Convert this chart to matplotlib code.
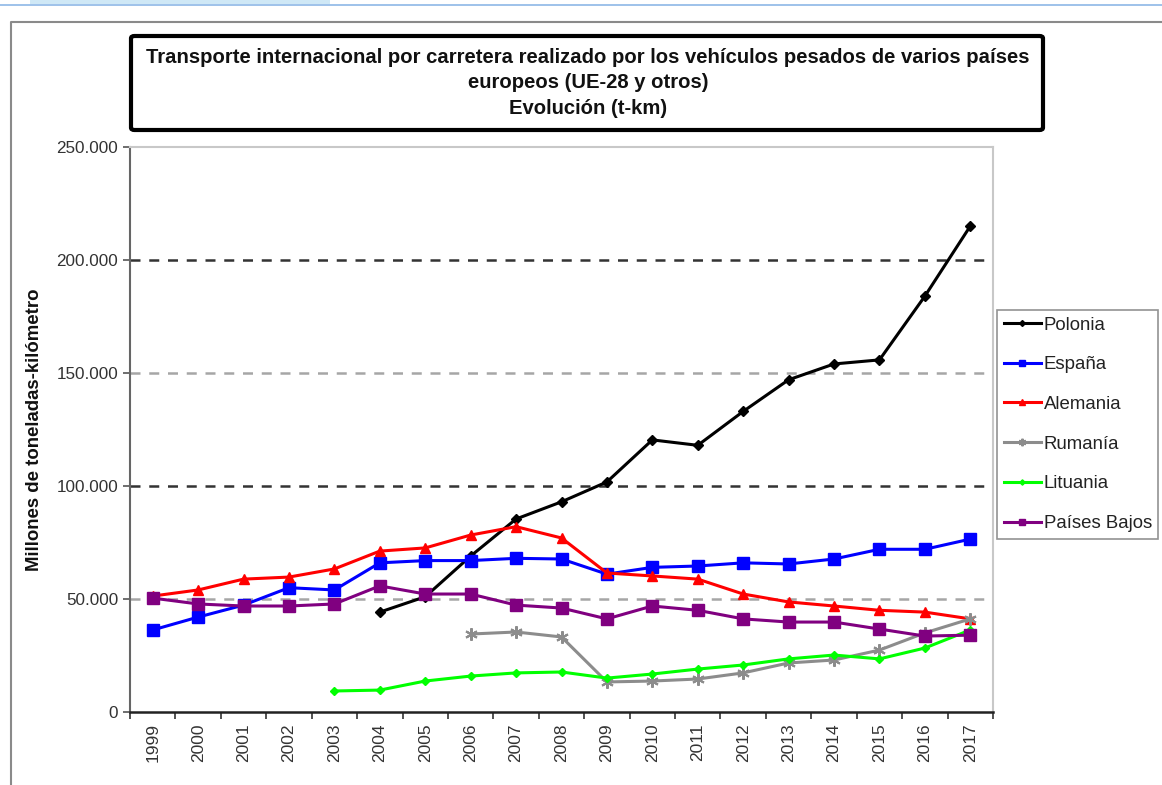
import numpy as np
import matplotlib.pyplot as plt
from matplotlib.patches import Rectangle, FancyBboxPatch
from matplotlib.lines import Line2D
from matplotlib.ticker import FuncFormatter

plt.rcParams['font.family'] = ['Liberation Sans', 'DejaVu Sans']

years = list(range(1999, 2018))

# Millones de t-km, None where the country has no data
polonia = [None, None, None, None, None, 44200, 51000, 69000, 85400, 93000,
           101800, 120400, 118000, 133000, 147000, 154000, 155800, 184000, 215000]
espana = [36300, 42000, 47300, 55000, 54000, 66000, 67000, 67000, 68000, 67700,
          61000, 64000, 64600, 66000, 65500, 67700, 72000, 72000, 76500]
alemania = [51300, 54000, 58800, 59700, 63300, 71200, 72600, 78300, 82000, 77000,
            61500, 60200, 58800, 52200, 48700, 46900, 45000, 44200, 41200]
rumania = [None, None, None, None, None, None, None, 34500, 35400, 33200,
           13300, 13700, 14600, 17300, 21700, 23000, 27400, 35000, 41200]
lituania = [None, None, None, None, 9300, 9700, 13700, 15900, 17300, 17700,
            15000, 16800, 19000, 20800, 23500, 25200, 23500, 28300, 36300]
paises_bajos = [50400, 47800, 46900, 46900, 47800, 55800, 52200, 52200, 47300, 46000,
                41200, 46900, 45000, 41200, 39800, 39800, 36700, 33600, 34000]

series = [
    ('Polonia', polonia, 'black', 'D', 5),
    ('España', espana, '#0000FF', 's', 8),
    ('Alemania', alemania, '#FF0000', '^', 7),
    ('Rumanía', rumania, '#8C8C8C', (6, 2, 0), 9),
    ('Lituania', lituania, '#00FF00', 'D', 4.5),
    ('Países Bajos', paises_bajos, '#800080', 's', 8),
]

W, H = 1162, 785
fig = plt.figure(figsize=(W / 100, H / 100), dpi=100)

# page decoration: blue strip and the outer sheet frame
fig.patches.append(Rectangle((30 / W, 1 - 4 / H), 300 / W, 4 / H, transform=fig.transFigure,
                             facecolor='#cfe8f6', edgecolor='none'))
fig.lines.append(Line2D([0, 1], [1 - 4.5 / H, 1 - 4.5 / H], transform=fig.transFigure,
                        color='#8db7e6', lw=1.2))
fig.lines.append(Line2D([11 / W, 11 / W, 1], [0, 1 - 22 / H, 1 - 22 / H],
                        transform=fig.transFigure, color='#8a8a8a', lw=1.5))

# title box
fig.patches.append(FancyBboxPatch((131 / W, 1 - 130 / H), 912 / W, 94 / H,
                                  boxstyle='round,pad=0,rounding_size=0.003',
                                  transform=fig.transFigure, facecolor='white',
                                  edgecolor='black', lw=3))
fig.text(588 / W, 1 - 83 / H,
         'Transporte internacional por carretera realizado por los vehículos pesados de varios países\n'
         'europeos (UE-28 y otros)\nEvolución (t-km)',
         ha='center', va='center', fontsize=14.6, fontweight='bold', color='#111111',
         linespacing=1.42)

ax = fig.add_axes([130 / W, 1 - 712 / H, 863 / W, 565 / H])
x = np.arange(len(years))

for name, vals, color, marker, ms in series:
    y = np.array([np.nan if v is None else v for v in vals], dtype=float)
    ax.plot(x, y, color=color, lw=2.2, marker=marker, markersize=ms,
            markeredgewidth=1.5 if marker == (6, 2, 0) else 1,
            markeredgecolor=color, label=name)

# dashed reference lines
for val, col in [(50000, '#a6a6a6'), (100000, '#333333'), (150000, '#a6a6a6'), (200000, '#333333')]:
    ax.axhline(val, color=col, lw=1.8, ls=(0, (4, 3.5)), zorder=0.5)

ax.set_xlim(-0.5, len(years) - 0.5)
ax.set_ylim(0, 250000)
ax.set_yticks(np.arange(0, 250001, 50000))
ax.yaxis.set_major_formatter(FuncFormatter(lambda v, p: f'{v:,.0f}'.replace(',', '.')))

ax.set_xticks(x)
ax.set_xticklabels([str(yr) for yr in years], rotation=90)
ax.set_xticks(np.arange(-0.5, len(years), 1), minor=True)
ax.tick_params(axis='x', which='major', length=0, pad=8, labelsize=12.5, labelcolor='#333333')
ax.tick_params(axis='x', which='minor', length=5, width=1.2, direction='out', color='#333333')
ax.tick_params(axis='y', length=5, width=1.2, direction='out', labelsize=12.3,
               labelcolor='#333333', color='#555555')

ax.spines['left'].set_color('#666666')
ax.spines['left'].set_linewidth(1.5)
ax.spines['bottom'].set_color('#222222')
ax.spines['bottom'].set_linewidth(1.8)
for s in ('top', 'right'):
    ax.spines[s].set_color('#c8c8c8')
    ax.spines[s].set_linewidth(1.5)

ax.set_ylabel('Millones de toneladas-kilómetro', fontsize=13.4, fontweight='bold',
              labelpad=10, color='#111111')

leg = ax.legend(loc='upper left', bbox_to_anchor=(997 / W, 1 - 310 / H),
                bbox_transform=fig.transFigure, fontsize=13.4, frameon=True,
                fancybox=False, edgecolor='#777777', handlelength=2.0,
                handletextpad=0.15, labelspacing=1.22, borderpad=0.35,
                borderaxespad=0, markerscale=0.6)
leg.get_frame().set_linewidth(1.2)
for t in leg.get_texts():
    t.set_color('#222222')

fig.savefig('out.png', dpi=100)
